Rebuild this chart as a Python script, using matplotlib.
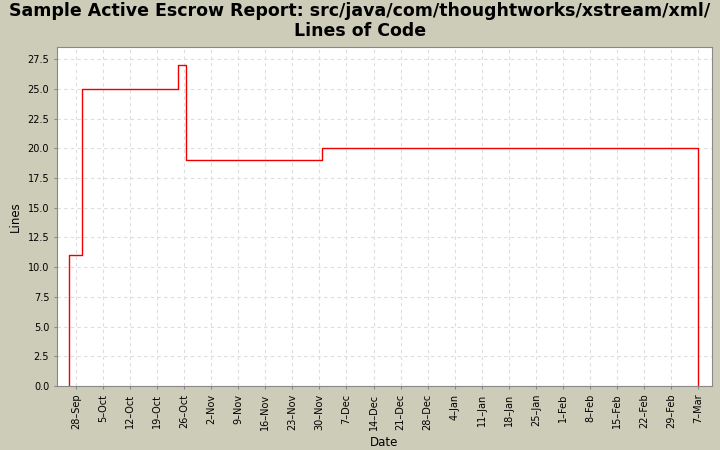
import matplotlib
matplotlib.use("Agg")
import matplotlib.pyplot as plt
import matplotlib.dates as mdates
import datetime as dt

dates = ["2003-09-26 06:00", "2003-09-29 12:00", "2003-10-24 10:00", "2003-10-26 12:00",
         "2003-11-30 16:00", "2004-03-07 00:00", "2004-03-07 00:01"]
lines = [11, 25, 27, 19, 20, 0, 0]

x = [dt.datetime.strptime(d, "%Y-%m-%d %H:%M") for d in dates]
xs = [x[0]] + x
ys = [0] + lines

fig = plt.figure(figsize=(7.2, 4.5), dpi=100, facecolor="#CCCCB9")
ax = fig.add_axes([0.079, 0.142, 0.910, 0.753])
ax.set_facecolor("white")
ax.plot(xs, ys, drawstyle="steps-post", color="#EE0000", lw=1)
ax.set_xlim(dt.datetime(2003, 9, 23, 2), dt.datetime(2004, 3, 10, 14))
ax.set_ylim(0, 28.5)
ax.set_yticks([i * 2.5 for i in range(12)])
ax.yaxis.set_major_formatter(matplotlib.ticker.FormatStrFormatter("%.1f"))
start = dt.datetime(2003, 9, 28)
ticks = [start + dt.timedelta(days=7 * i) for i in range(24)]
ax.set_xticks(ticks)
ax.set_xticklabels([f"{t.day}\u2013{t.strftime('%b')}" for t in ticks], rotation=90)
ax.tick_params(labelsize=7, length=2, color="#888888")
ax.grid(True, color="#DDDDDD", ls=(0, (3, 3)), lw=0.8)
for s in ax.spines.values():
    s.set_color("#888888")
ax.set_xlabel("Date", fontsize=8.5)
ax.set_ylabel("Lines", fontsize=8.5)
fig.suptitle("Sample Active Escrow Report: src/java/com/thoughtworks/xstream/xml/\nLines of Code",
             fontsize=12.5, fontweight="bold", y=0.995, linespacing=1.1)
fig.savefig("out.png", facecolor=fig.get_facecolor())
